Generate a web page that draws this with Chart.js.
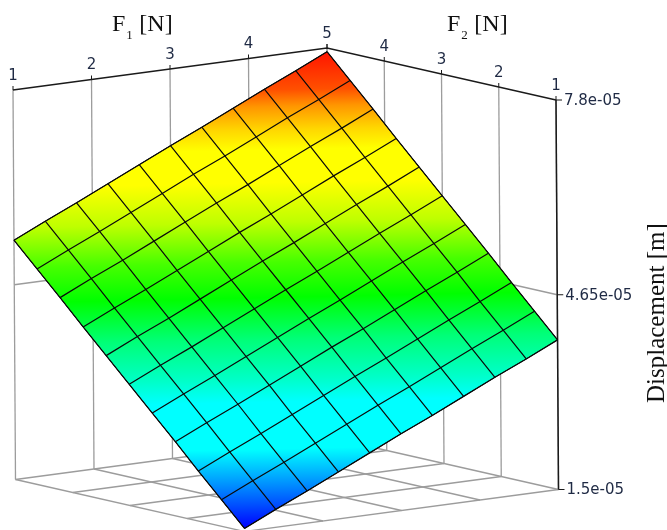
<!DOCTYPE html>
<html lang="en">

<head>
	<meta charset="UTF-8">
	<title>Displacement surface</title>
	<script src="https://cdn.jsdelivr.net/npm/chart.js@4/dist/chart.umd.min.js"></script>
	<style>
		html, body {
			margin: 0;
			padding: 0;
			background: #fff;
		}

		canvas {
			display: block;
		}
	</style>
</head>

<body>
	<canvas id="chart" width="667" height="530"></canvas>

	<script>
		// grid nodes of the surface
		const f1Nodes = [1, 1.4, 1.8, 2.2, 2.6, 3, 3.4, 3.8, 4.2, 4.6, 5];
		const f2Nodes = [1, 1.4, 1.8, 2.2, 2.6, 3, 3.4, 3.8, 4.2, 4.6, 5];

		// displacement in units of 1e-5 m, one row per F2 node, one column per F1 node
		const displacement = [
			[1.55, 1.79, 2.02, 2.26, 2.50, 2.74, 2.97, 3.21, 3.45, 3.68, 3.92],
			[1.93, 2.17, 2.40, 2.64, 2.88, 3.12, 3.35, 3.59, 3.83, 4.06, 4.30],
			[2.31, 2.55, 2.78, 3.02, 3.26, 3.50, 3.73, 3.97, 4.21, 4.44, 4.68],
			[2.70, 2.94, 3.17, 3.41, 3.65, 3.89, 4.12, 4.36, 4.60, 4.83, 5.07],
			[3.08, 3.32, 3.55, 3.79, 4.03, 4.27, 4.50, 4.74, 4.98, 5.21, 5.45],
			[3.46, 3.70, 3.93, 4.17, 4.41, 4.65, 4.88, 5.12, 5.36, 5.59, 5.83],
			[3.84, 4.08, 4.31, 4.55, 4.79, 5.03, 5.26, 5.50, 5.74, 5.97, 6.21],
			[4.22, 4.46, 4.69, 4.93, 5.17, 5.41, 5.64, 5.88, 6.12, 6.35, 6.59],
			[4.61, 4.85, 5.08, 5.32, 5.56, 5.80, 6.03, 6.27, 6.51, 6.74, 6.98],
			[4.99, 5.23, 5.46, 5.70, 5.94, 6.18, 6.41, 6.65, 6.89, 7.12, 7.36],
			[5.37, 5.61, 5.84, 6.08, 6.32, 6.56, 6.79, 7.03, 7.27, 7.50, 7.74]
		];

		const f1Ticks = [1, 2, 3, 4, 5];
		const f2Ticks = [1, 2, 3, 4, 5];
		const zTicks = [1.5, 4.65, 7.8];
		const zTickLabels = ["1.5e-05", "4.65e-05", "7.8e-05"];

		// colormap along the surface height
		const colorStops = [0, 0.05, 0.109, 0.166, 0.265, 0.313, 0.397, 0.485, 0.559, 0.643, 0.727, 0.796, 0.838, 0.887, 0.922, 1];
		const colorValues = ["#0000ff", "#0050ff", "#00aaff", "#00ffff", "#00ffff", "#00ffc8", "#00ff78", "#00ff00",
			"#46ff00", "#beff00", "#ffff00", "#ffff00", "#ffd700", "#ff9600", "#ff5000", "#ff1400"];

		// axonometric view: page position of (F1=1, F2=1, z=min) and the axis directions
		const view = {
			ox: 244.5, oy: 531.5,
			f1x: 78.5, f1y: -10.5,
			f2x: -57.25, f2y: -13,
			zx: -2.5 / 6.3, zy: -389.5 / 6.3
		};
		const zMin = zTicks[0];
		const zMax = zTicks[zTicks.length - 1];
		const f1Min = f1Ticks[0], f1Max = f1Ticks[f1Ticks.length - 1];
		const f2Min = f2Ticks[0], f2Max = f2Ticks[f2Ticks.length - 1];

		function project(f1, f2, z) {
			return {
				x: view.ox + (f1 - f1Min) * view.f1x + (f2 - f2Min) * view.f2x + (z - zMin) * view.zx,
				y: view.oy + (f1 - f1Min) * view.f1y + (f2 - f2Min) * view.f2y + (z - zMin) * view.zy
			};
		}

		let surfaceGradient = null;

		// one gradient for the whole surface, its bands run along lines of equal displacement
		function getSurfaceGradient(chart) {
			if (surfaceGradient) return surfaceGradient;
			const xs = chart.scales.x, ys = chart.scales.y;
			const rows = displacement.length, cols = displacement[0].length;
			const low = displacement[0][0];
			const high = displacement[rows - 1][cols - 1];
			const right = displacement[0][cols - 1];
			const left = displacement[rows - 1][0];
			const f2Same = f2Min + (f2Max - f2Min) * (right - low) / (left - low);
			const a = project(f1Max, f2Min, right);
			const b = project(f1Min, f2Same, right);
			let nx = -(a.y - b.y), ny = a.x - b.x;
			const len = Math.hypot(nx, ny);
			nx /= len;
			ny /= len;
			const p0 = project(f1Min, f2Min, low);
			const p1 = project(f1Max, f2Max, high);
			const span = (p1.x - p0.x) * nx + (p1.y - p0.y) * ny;
			const gradient = chart.ctx.createLinearGradient(
				xs.getPixelForValue(p0.x), ys.getPixelForValue(p0.y),
				xs.getPixelForValue(p0.x + nx * span), ys.getPixelForValue(p0.y + ny * span));
			colorStops.forEach((s, i) => gradient.addColorStop(s, colorValues[i]));
			surfaceGradient = gradient;
			return gradient;
		}

		function lineSet(points, color, width) {
			return {
				data: points,
				showLine: true,
				fill: false,
				borderColor: color,
				borderWidth: width,
				pointRadius: 0,
				tension: 0,
				clip: false
			};
		}

		let datasets = [];
		const rowCount = f2Nodes.length;
		const colCount = f1Nodes.length;
		const meshColor = "#0a0a0a";

		// mesh lines first, the first dataset is drawn on top
		for (let j = 0; j < rowCount; j++) {
			datasets.push(lineSet(f1Nodes.map((f1, i) => project(f1, f2Nodes[j], displacement[j][i])), meshColor, 1.2));
		}
		for (let i = 0; i < colCount; i++) {
			datasets.push(lineSet(f2Nodes.map((f2, j) => project(f1Nodes[i], f2, displacement[j][i])), meshColor, 1.2));
		}

		// the coloured sheet, walked round its outer nodes
		let outline = [];
		for (let i = 0; i < colCount; i++) outline.push(project(f1Nodes[i], f2Nodes[0], displacement[0][i]));
		for (let j = 1; j < rowCount; j++) outline.push(project(f1Nodes[colCount - 1], f2Nodes[j], displacement[j][colCount - 1]));
		for (let i = colCount - 2; i >= 0; i--) outline.push(project(f1Nodes[i], f2Nodes[rowCount - 1], displacement[rowCount - 1][i]));
		for (let j = rowCount - 2; j >= 0; j--) outline.push(project(f1Nodes[0], f2Nodes[j], displacement[j][0]));
		let sheet = lineSet(outline, meshColor, 1);
		sheet.fill = "shape";
		sheet.backgroundColor = (c) => c.chart.chartArea ? getSurfaceGradient(c.chart) : "#fff";
		datasets.push(sheet);

		const frameDark = "#1a1a1a";
		const wallGrey = "#9c9c9c";
		const zMid = zTicks[1];

		// top frame with the small ticks
		datasets.push(lineSet([project(f1Min, f2Max, zMax), project(f1Max, f2Max, zMax), project(f1Max, f2Min, zMax)], frameDark, 1.4));
		datasets.push(lineSet([project(f1Max, f2Min, zMax), project(f1Max, f2Min, zMin)], frameDark, 1.5));

		const tickUp = 4;
		for (let f1 of f1Ticks) {
			let p = project(f1, f2Max, zMax);
			datasets.push(lineSet([p, { x: p.x, y: p.y - tickUp }], frameDark, 1));
		}
		for (let f2 of f2Ticks) {
			let p = project(f1Max, f2, zMax);
			datasets.push(lineSet([p, { x: p.x, y: p.y - tickUp }], frameDark, 1));
		}
		for (let z of zTicks) {
			let p = project(f1Max, f2Min, z);
			datasets.push(lineSet([p, { x: p.x + 6, y: p.y }], frameDark, 1));
		}

		// back walls
		for (let f1 of f1Ticks) {
			datasets.push(lineSet([project(f1, f2Max, zMax), project(f1, f2Max, zMin)], wallGrey, 1.3));
		}
		for (let f2 of f2Ticks) {
			datasets.push(lineSet([project(f1Max, f2, zMax), project(f1Max, f2, zMin)], wallGrey, 1.3));
		}
		datasets.push(lineSet([project(f1Min, f2Max, zMid), project(f1Max, f2Max, zMid), project(f1Max, f2Min, zMid)], wallGrey, 1.3));

		// floor
		for (let f1 of f1Ticks) {
			datasets.push(lineSet([project(f1, f2Min, zMin), project(f1, f2Max, zMin)], wallGrey, 1.3));
		}
		for (let f2 of f2Ticks) {
			datasets.push(lineSet([project(f1Min, f2, zMin), project(f1Max, f2, zMin)], wallGrey, 1.3));
		}

		const tickFont = '15px "DejaVu Sans"';
		const tickColor = "#1f2a44";
		const titleFont = '24px "Liberation Serif"';
		const titleColor = "#111";

		function drawSubscriptTitle(ctx, x, y, main, sub, rest) {
			ctx.textAlign = "left";
			ctx.textBaseline = "alphabetic";
			ctx.font = titleFont;
			ctx.fillText(main, x, y);
			let w = ctx.measureText(main).width;
			ctx.font = '13px "Liberation Serif"';
			ctx.fillText(sub, x + w + 1, y + 8);
			ctx.font = titleFont;
			ctx.fillText(rest, x + w + 14, y);
		}

		// axis texts lie along the skewed box, so they are placed through the chart's scales here
		const boxLabels = {
			id: "boxLabels",
			afterDatasetsDraw(chart) {
				const ctx = chart.ctx, xs = chart.scales.x, ys = chart.scales.y;
				ctx.save();
				ctx.fillStyle = tickColor;
				ctx.font = tickFont;
				ctx.textAlign = "center";
				ctx.textBaseline = "middle";
				for (let f1 of f1Ticks) {
					let p = project(f1, f2Max, zMax);
					ctx.fillText(String(f1), xs.getPixelForValue(p.x), ys.getPixelForValue(p.y) - 14);
				}
				for (let f2 of f2Ticks) {
					if (f2 === f2Max) continue;
					let p = project(f1Max, f2, zMax);
					ctx.fillText(String(f2), xs.getPixelForValue(p.x), ys.getPixelForValue(p.y) - 14);
				}
				ctx.textAlign = "left";
				zTicks.forEach((z, i) => {
					let p = project(f1Max, f2Min, z);
					ctx.fillText(zTickLabels[i], xs.getPixelForValue(p.x) + 8, ys.getPixelForValue(p.y) + 1);
				});
				ctx.fillStyle = titleColor;
				drawSubscriptTitle(ctx, 112, 31, "F", "1", "[N]");
				drawSubscriptTitle(ctx, 447, 31, "F", "2", "[N]");
				ctx.translate(664, 403);
				ctx.rotate(-Math.PI / 2);
				ctx.font = '25px "Liberation Serif"';
				ctx.textAlign = "left";
				ctx.textBaseline = "alphabetic";
				ctx.fillText("Displacement [m]", 0, 0);
				ctx.restore();
			}
		};

		const chart = new Chart(document.getElementById("chart").getContext("2d"), {
			type: "scatter",
			data: { datasets },
			plugins: [boxLabels],
			options: {
				responsive: false,
				animation: false,
				layout: { padding: 0 },
				plugins: {
					legend: { display: false },
					tooltip: { enabled: false }
				},
				scales: {
					x: { type: "linear", display: false, min: 0, max: 667 },
					y: { type: "linear", display: false, min: 0, max: 530, reverse: true }
				}
			}
		});
	</script>
</body>

</html>
